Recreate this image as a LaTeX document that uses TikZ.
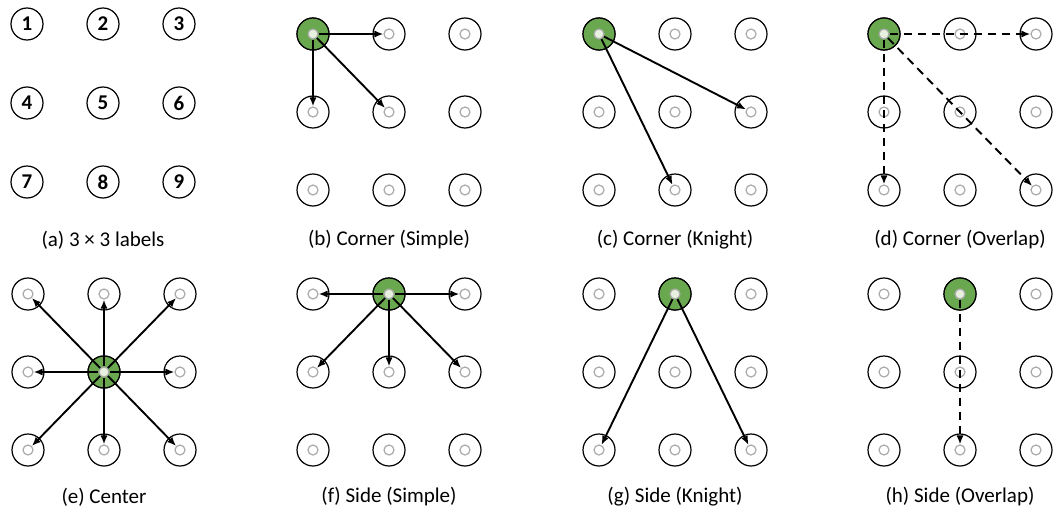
\documentclass[tikz,border=0pt]{standalone}
\usepackage{fontspec}
\setmainfont{Carlito}
\usetikzlibrary{arrows.meta}
\definecolor{srcgreen}{RGB}{106,168,79}
\definecolor{srcinner}{RGB}{232,240,224}
\definecolor{ringgrey}{RGB}{170,170,170}
\newcommand\gridpanel[3]{%
  \foreach \r in {1,2,3}{\foreach \c in {1,2,3}{%
    \node[outerring] (#1o\r\c) at ({#2+(\c-1)*76},{#3+(\r-1)*78}) {};
    \node[innerring] (#1i\r\c) at (#1o\r\c) {};
  }}}
\begin{document}
\begin{tikzpicture}[x=0.5pt,y=-0.5pt,
  outerring/.style={circle,draw=black,line width=0.6pt,minimum size=16pt,inner sep=0pt},
  innerring/.style={circle,draw=ringgrey,line width=0.6pt,minimum size=5pt,inner sep=0pt},
  labring/.style={circle,draw=black,line width=0.6pt,minimum size=16pt,inner sep=0pt,font=\fontsize{10.5}{11}\selectfont\bfseries},
  srcring/.style={circle,draw=black,fill=srcgreen,line width=0.6pt,minimum size=16pt,inner sep=0pt},
  srcin/.style={circle,draw=ringgrey,fill=srcinner,line width=0.6pt,minimum size=5pt,inner sep=0pt},
  mv/.style={line width=0.95pt,-{Latex[length=4.5pt,width=3.6pt]}},
  mvd/.style={mv,dash pattern=on 4.2pt off 2.8pt},
  captext/.style={font=\fontsize{10.5}{12}\selectfont}]
\useasboundingbox (0,0) rectangle (1054,514);
% (a) labels
\foreach \r in {1,2,3}{\foreach \c in {1,2,3}{%
  \pgfmathtruncatemacro\n{(\r-1)*3+\c}
  \node[labring] (ao\r\c) at ({27+(\c-1)*76},{24+(\r-1)*79}) {\n};
}}
\node[captext] (acap) at (103,240) {(a) 3 × 3 labels};
% (b)
\gridpanel{b}{313}{34}
\node[srcring] at (bo11) {};
\node[srcin] (bs) at (bo11) {};
\draw[mv] (bs) -- (bi12);
\draw[mv] (bs) -- (bi21);
\draw[mv] (bs) -- (bi22);
\node[captext] (bcap) at (389,240) {(b) Corner (Simple)};
% (c)
\gridpanel{c}{599}{34}
\node[srcring] at (co11) {};
\node[srcin] (cs) at (co11) {};
\draw[mv] (cs) -- (ci23);
\draw[mv] (cs) -- (ci32);
\node[captext] (ccap) at (675,240) {(c) Corner (Knight)};
% (d)
\gridpanel{d}{884}{34}
\node[srcring] at (do11) {};
\node[srcin] (ds) at (do11) {};
\draw[mvd] (ds) -- (di13);
\draw[mvd] (ds) -- (di31);
\draw[mvd] (ds) -- (di33);
\node[captext] (dcap) at (960,240) {(d) Corner (Overlap)};
% (e)
\gridpanel{e}{28}{294}
\node[srcring] at (eo22) {};
\node[srcin] (es) at (eo22) {};
\foreach \t in {11,12,13,21,23,31,32,33}{\draw[mv] (es) -- (ei\t);}
\node[captext] (ecap) at (104,497) {(e) Center};
% (f)
\gridpanel{f}{313}{294}
\node[srcring] at (fo12) {};
\node[srcin] (fs) at (fo12) {};
\foreach \t in {11,13,21,22,23}{\draw[mv] (fs) -- (fi\t);}
\node[captext] (fcap) at (389,497) {(f) Side (Simple)};
% (g)
\gridpanel{g}{599}{294}
\node[srcring] at (go12) {};
\node[srcin] (gs) at (go12) {};
\draw[mv] (gs) -- (gi31);
\draw[mv] (gs) -- (gi33);
\node[captext] (gcap) at (675,497) {(g) Side (Knight)};
% (h)
\gridpanel{h}{884}{294}
\node[srcring] at (ho12) {};
\node[srcin] (hs) at (ho12) {};
\draw[mvd] (hs) -- (hi32);
\node[captext] (hcap) at (960,497) {(h) Side (Overlap)};
\end{tikzpicture}
\end{document}
